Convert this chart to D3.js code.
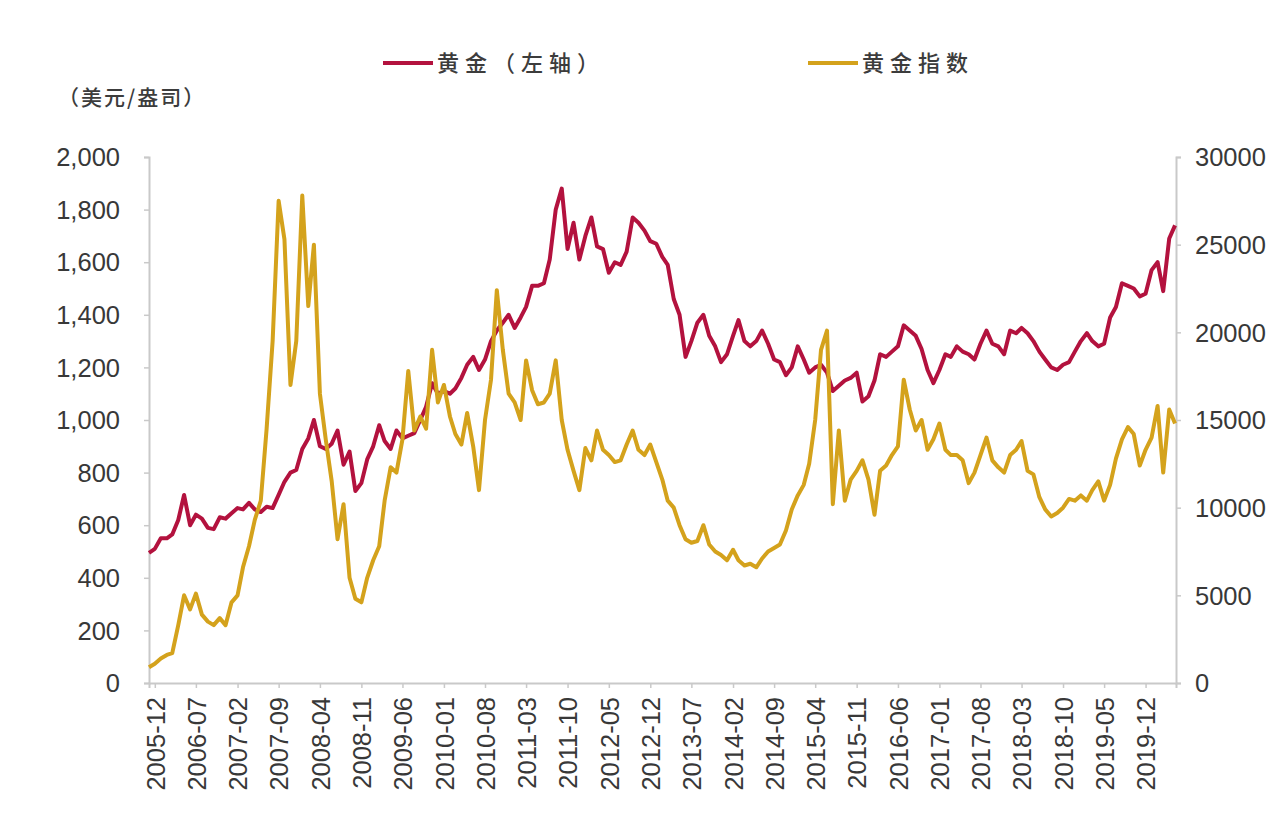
<!DOCTYPE html>
<html>
<head>
<meta charset="utf-8">
<script src="https://cdn.jsdelivr.net/npm/d3@7"></script>
<style>
  html, body { margin: 0; padding: 0; background: #ffffff; }
  svg { display: block; }
  text { font-family: "Liberation Sans", Arial, sans-serif; }
  .cjk { font-family: "Noto Sans CJK SC", "Noto Sans", sans-serif; }
</style>
</head>
<body>
<svg id="chart" width="1278" height="834"></svg>
<script>
// Monthly series, Nov 2005 – May 2020
const startMonth = new Date(2005, 10, 1);

// Gold price, USD per ounce (left axis)
const goldPrice = [
  495, 510, 550, 550, 565, 620, 715, 600, 640, 625, 590, 585, 630,
  625, 645, 665, 660, 685, 660, 650, 670, 665, 715, 765, 800,
  810, 890, 930, 1000, 900, 890, 910, 960, 830, 880, 730, 760,
  850, 900, 980, 920, 890, 960, 930, 940, 950, 1000, 1050, 1140,
  1100, 1110, 1100, 1120, 1160, 1210, 1240, 1190, 1230, 1300, 1340, 1370,
  1400, 1350, 1390, 1430, 1510, 1510, 1520, 1610, 1800, 1880, 1650, 1750,
  1610, 1700, 1770, 1660, 1650, 1560, 1600, 1590, 1640, 1770, 1750, 1720,
  1680, 1670, 1620, 1590, 1460, 1400, 1240, 1300, 1370, 1400, 1320, 1280,
  1220, 1250, 1320, 1380, 1300, 1280, 1300, 1340, 1290, 1230, 1220, 1170,
  1200, 1280, 1230, 1180, 1200, 1210, 1180, 1110, 1130, 1150, 1160, 1180,
  1070, 1090, 1150, 1250, 1240, 1260, 1280, 1360, 1340, 1320, 1270, 1190,
  1140, 1190, 1250, 1240, 1280, 1260, 1250, 1230, 1290, 1340, 1290, 1280,
  1250, 1340, 1330, 1350, 1330, 1300, 1260, 1230, 1200, 1190, 1210, 1220,
  1260, 1300, 1330, 1300, 1280, 1290, 1390, 1430, 1520, 1510, 1500, 1470,
  1480, 1570, 1600, 1490, 1690, 1740
];

// Gold index (right axis)
const goldIndex = [
  900, 1100, 1400, 1600, 1700, 3300, 5000, 4200, 5100, 3900, 3500, 3300, 3700,
  3300, 4600, 5000, 6600, 7800, 9300, 10400, 14500, 19500, 27500, 25300, 17000,
  19500, 27800, 21500, 25000, 16500, 13900, 11500, 8200, 10200, 6000, 4800, 4600,
  6000, 7000, 7800, 10400, 12300, 12000, 13900, 17800, 14400, 15200, 14500, 19000,
  16000, 17000, 15200, 14200, 13600, 15400, 13500, 11000, 15000, 17300, 22400, 19000,
  16500, 16000, 15000, 18400, 16700, 15900, 16000, 16500, 18400, 15000, 13300, 12100,
  11000, 13400, 12700, 14400, 13300, 13000, 12600, 12700, 13600, 14400, 13300, 13000,
  13600, 12600, 11600, 10400, 10000, 9000, 8200, 8000, 8100, 9000, 7900, 7500,
  7300, 7000, 7600, 7000, 6700, 6800, 6600, 7100, 7500, 7700, 7900, 8700,
  9900, 10700, 11300, 12500, 15000, 19000, 20100, 10200, 14400, 10400, 11600, 12100,
  12700, 11600, 9600, 12100, 12400, 13000, 13500, 17300, 15600, 14400, 15000, 13300,
  13900, 14800, 13300, 13000, 13000, 12700, 11400, 12000, 13000, 14000, 12700, 12300,
  12000, 13000, 13300, 13800, 12100, 11900, 10600, 9900, 9500, 9700, 10000, 10500,
  10400, 10700, 10400, 11000, 11500, 10400, 11300, 12800, 13900, 14600, 14200, 12400,
  13300, 14000, 15800, 12000, 15600, 14800
];

// Category labels on the time axis
const tickLabels = [
  "2005-12", "2006-07", "2007-02", "2007-09", "2008-04", "2008-11", "2009-06",
  "2010-01", "2010-08", "2011-03", "2011-10", "2012-05", "2012-12", "2013-07",
  "2014-02", "2014-09", "2015-04", "2015-11", "2016-06", "2017-01", "2017-08",
  "2018-03", "2018-10", "2019-05", "2019-12"
];
const leftTicks = [0, 200, 400, 600, 800, 1000, 1200, 1400, 1600, 1800, 2000];
const rightTicks = [0, 5000, 10000, 15000, 20000, 25000, 30000];

const seriesNames = ["黄金（左轴）", "黄金指数"];
const seriesColors = ["#B3123E", "#D4A21C"];
const unitLabel = "（美元/盎司）";

const dates = goldPrice.map((_, i) => d3.timeMonth.offset(startMonth, i));
const parseLabel = d3.timeParse("%Y-%m");

const svg = d3.select("#chart");
const plot = { left: 149, right: 1176, top: 157, bottom: 683 };

const x = d3.scaleTime()
  .domain([startMonth, new Date(2020, 4, 6)])
  .range([plot.left, plot.right]);
const yL = d3.scaleLinear().domain([0, 2000]).range([plot.bottom, plot.top]);
const yR = d3.scaleLinear().domain([0, 30000]).range([plot.bottom, plot.top]);

const axisColor = "#c9c9c9";
const textColor = "#383838";

// Left axis
const gL = svg.append("g").attr("transform", `translate(${plot.left},0)`)
  .call(d3.axisLeft(yL).tickValues(leftTicks).tickSize(5).tickPadding(24)
    .tickFormat(d3.format(",")));
// Right axis
const gR = svg.append("g").attr("transform", `translate(${plot.right},0)`)
  .call(d3.axisRight(yR).tickValues(rightTicks).tickSize(5).tickPadding(14)
    .tickFormat(d3.format("d")));
// Bottom axis
const gB = svg.append("g").attr("transform", `translate(0,${plot.bottom})`)
  .call(d3.axisBottom(x).tickValues(tickLabels.map(parseLabel)).tickSize(5)
    .tickFormat(d3.timeFormat("%Y-%m")));

[gL, gR, gB].forEach(g => {
  g.select(".domain").attr("stroke", axisColor).attr("stroke-width", 2);
  g.selectAll(".tick line").attr("stroke", axisColor).attr("stroke-width", 1.5);
  g.selectAll(".tick text").attr("fill", textColor)
    .style("font-family", "'Liberation Sans', Arial, sans-serif")
    .style("font-size", "25.5px");
});

gB.selectAll(".tick text")
  .attr("text-anchor", "end")
  .attr("transform", "rotate(-90)")
  .attr("x", -14)
  .attr("y", 0)
  .attr("dy", "0.36em");

gL.selectAll(".tick text").attr("dy", "0.34em");
gR.selectAll(".tick text").attr("dy", "0.34em");

// Series lines
const lineL = d3.line().x((d, i) => x(dates[i])).y(d => yL(d)).curve(d3.curveLinear);
const lineR = d3.line().x((d, i) => x(dates[i])).y(d => yR(d)).curve(d3.curveLinear);

svg.append("path").datum(goldPrice)
  .attr("fill", "none").attr("stroke", seriesColors[0])
  .attr("stroke-width", 4).attr("stroke-linejoin", "round")
  .attr("d", lineL);

svg.append("path").datum(goldIndex)
  .attr("fill", "none").attr("stroke", seriesColors[1])
  .attr("stroke-width", 4).attr("stroke-linejoin", "round")
  .attr("d", lineR);

// Legend
const legendItems = [
  { name: seriesNames[0], color: seriesColors[0], x0: 383 },
  { name: seriesNames[1], color: seriesColors[1], x0: 808 }
];
const lg = svg.append("g");
legendItems.forEach(item => {
  lg.append("line")
    .attr("x1", item.x0).attr("x2", item.x0 + 50)
    .attr("y1", 63).attr("y2", 63)
    .attr("stroke", item.color).attr("stroke-width", 4);
  lg.append("text")
    .attr("class", "cjk")
    .attr("x", item.x0 + 54).attr("y", 63).attr("dy", "0.36em")
    .attr("fill", "#3c3c3c")
    .style("font-size", "22px").style("font-weight", "500")
    .style("letter-spacing", "6px")
    .text(item.name);
});

// Unit label
svg.append("text")
  .attr("class", "cjk")
  .attr("x", 58).attr("y", 97).attr("dy", "0.36em")
  .attr("fill", "#3c3c3c")
  .style("font-size", "21px").style("font-weight", "500")
  .style("letter-spacing", "2px")
  .text(unitLabel);
</script>
</body>
</html>
